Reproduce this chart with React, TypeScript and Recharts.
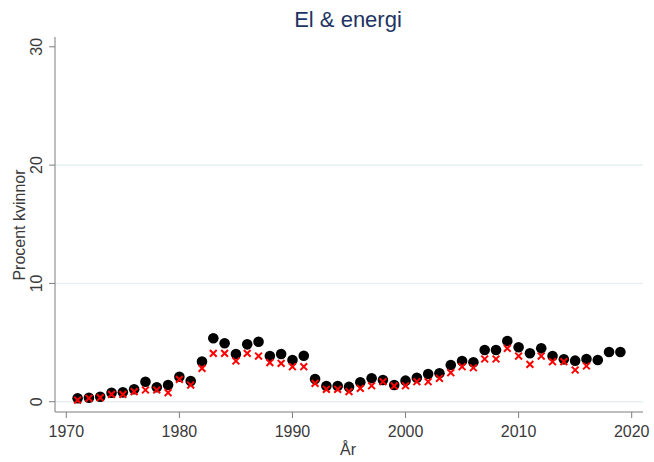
import * as React from 'react';
import { ScatterChart, Scatter, XAxis, YAxis, ReferenceLine } from 'recharts';

// Andel kvinnor, El & energi
const years = [
  1971, 1972, 1973, 1974, 1975, 1976, 1977, 1978, 1979, 1980,
  1981, 1982, 1983, 1984, 1985, 1986, 1987, 1988, 1989, 1990,
  1991, 1992, 1993, 1994, 1995, 1996, 1997, 1998, 1999, 2000,
  2001, 2002, 2003, 2004, 2005, 2006, 2007, 2008, 2009, 2010,
  2011, 2012, 2013, 2014, 2015, 2016, 2017, 2018, 2019,
];
const blackValues = [
  0.29, 0.34, 0.42, 0.76, 0.79, 1.05, 1.69, 1.22, 1.41, 2.11,
  1.75, 3.4, 5.36, 4.94, 4.03, 4.85, 5.07, 3.86, 4.03, 3.52,
  3.89, 1.92, 1.33, 1.33, 1.25, 1.64, 1.98, 1.83, 1.41, 1.78,
  2.03, 2.34, 2.4, 3.1, 3.44, 3.33, 4.37, 4.37, 5.13, 4.6,
  4.09, 4.51, 3.86, 3.58, 3.47, 3.61, 3.52, 4.2, 4.2,
];
const redValues = [
  0.14, 0.29, 0.34, 0.62, 0.62, 0.85, 0.99, 0.99, 0.76, 1.89,
  1.41, 2.82, 4.09, 4.09, 3.44, 4.09, 3.86, 3.3, 3.24, 2.96,
  2.96, 1.55, 1.05, 1.05, 0.85, 1.13, 1.35, 1.69, 1.33, 1.35,
  1.69, 1.69, 1.98, 2.45, 2.96, 2.87, 3.61, 3.61, 4.51, 3.86,
  3.16, 3.86, 3.38, 3.38, 2.68, 3.02,
];
const xTicks = [1970, 1980, 1990, 2000, 2010, 2020];
const yTicks = [0, 10, 20, 30];
const gridValues = [0, 10, 20];

const blackData = years.map((year, i) => ({ year, value: blackValues[i] }));
const redData = redValues.map((value, i) => ({ year: years[i], value }));

const FONT = '"Liberation Sans", Arial, sans-serif';
const AXIS = '#7d7d7d';
const LABEL = '#3a3a3a';

const Dot = (props: any) => <circle cx={props.cx} cy={props.cy} r={5.3} fill="#000" />;

const Cross = (props: any) => {
  const { cx, cy } = props;
  const s = 3.4;
  return (
    <path
      d={`M${cx - s},${cy - s}L${cx + s},${cy + s}M${cx - s},${cy + s}L${cx + s},${cy - s}`}
      stroke="#ff0000"
      strokeWidth={2}
      fill="none"
    />
  );
};

const XTick = (props: any) => (
  <text x={props.x} y={437} textAnchor="middle" fontSize={16} fontFamily={FONT} fill={LABEL}>
    {props.payload.value}
  </text>
);

const YTick = (props: any) => (
  <text
    x={42}
    y={props.y}
    textAnchor="middle"
    fontSize={16}
    fontFamily={FONT}
    fill={LABEL}
    transform={`rotate(-90, 42, ${props.y})`}
  >
    {props.payload.value}
  </text>
);

export default function App() {
  return (
    <div style={{ position: 'absolute', left: 0, top: 0, width: 654, height: 462, background: '#fff' }}>
      <ScatterChart width={654} height={462} margin={{ top: 37, right: 11, bottom: 0, left: 0 }}>
        <text x={348} y={27} textAnchor="middle" fontSize={22} fontFamily={FONT} fill="#1e3462">
          El &amp; energi
        </text>
        <text
          x={25}
          y={225}
          textAnchor="middle"
          fontSize={16}
          fontFamily={FONT}
          fill={LABEL}
          transform="rotate(-90, 25, 225)"
        >
          Procent kvinnor
        </text>
        <text x={348} y={455} textAnchor="middle" fontSize={16} fontFamily={FONT} fill={LABEL}>
          År
        </text>
        <XAxis
          type="number"
          dataKey="year"
          domain={[1969, 2021]}
          ticks={xTicks}
          height={50}
          tickSize={6}
          stroke={AXIS}
          tickLine={{ stroke: AXIS }}
          tick={<XTick />}
          allowDataOverflow
        />
        <YAxis
          type="number"
          dataKey="value"
          domain={[-0.87, 30.83]}
          ticks={yTicks}
          width={55}
          tickSize={6}
          stroke={AXIS}
          tickLine={{ stroke: AXIS }}
          tick={<YTick />}
          allowDataOverflow
        />
        {gridValues.map((v) => (
          <ReferenceLine key={v} y={v} stroke="#e6eff1" strokeWidth={1.5} />
        ))}
        <Scatter data={blackData} shape={<Dot />} isAnimationActive={false} />
        <Scatter data={redData} shape={<Cross />} isAnimationActive={false} />
      </ScatterChart>
    </div>
  );
}
